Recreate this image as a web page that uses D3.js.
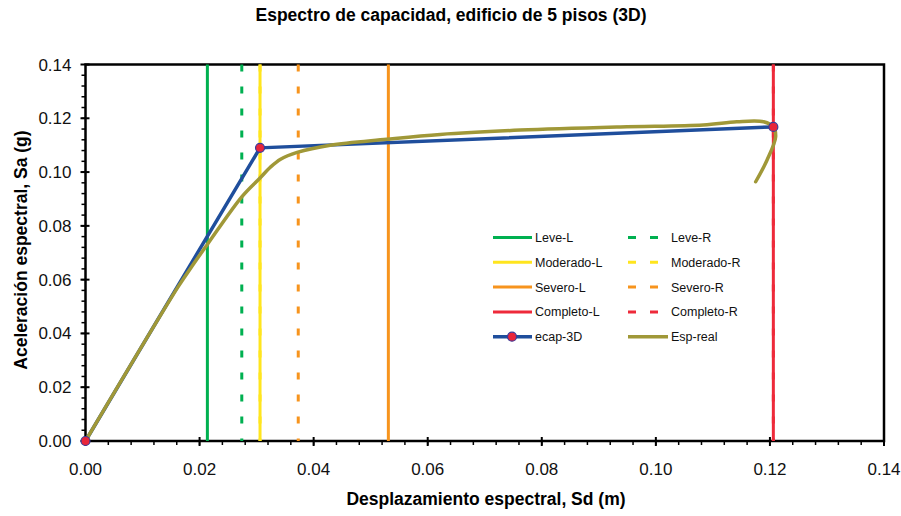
<!DOCTYPE html>
<html lang="es">
<head>
  <meta charset="UTF-8" />
  <title>Espectro de capacidad</title>
  <script src="https://cdn.jsdelivr.net/npm/d3@7"></script>
  <style>
    body { margin: 0; background: #fff; }
    svg { font-family: "Liberation Sans", Arial, sans-serif; }
    .tick-label { font-size: 17px; fill: #111; }
    .legend-label { font-size: 12.5px; fill: #111; }
    .title { font-size: 17.5px; font-weight: bold; }
    .axis-title { font-size: 17.5px; font-weight: bold; }
  </style>
</head>
<body>
<script>
  // damage-state thresholds, Sd (m)
  var limitNames = ["Leve", "Moderado", "Severo", "Completo"];
  var limitColors = ["#00b050", "#ffe51e", "#f7941d", "#ee2a3a"];
  var limitL = [0.02137, 0.0306, 0.0531, 0.1206];
  var limitR = [0.0274, 0.0306, 0.0373, 0.1206];

  // bilinear capacity curve ecap-3D
  var ecapSd = [0, 0.0306, 0.1206];
  var ecapSa = [0, 0.109, 0.1168];

  // real capacity spectrum
  var realSd = [0, 0.0162, 0.0190, 0.0213, 0.0274, 0.0306, 0.0324, 0.0342, 0.0371, 0.0429,
                0.0528, 0.0622, 0.0762, 0.0938, 0.1083, 0.1142, 0.1189, 0.1206, 0.1210, 0.1195, 0.1175];
  var realSa = [0, 0.0572, 0.0660, 0.0729, 0.0908, 0.0978, 0.1018, 0.1048, 0.1073, 0.1100,
                0.1122, 0.1140, 0.1156, 0.1168, 0.1175, 0.1187, 0.1187, 0.1168, 0.1131, 0.1045, 0.0964];

  var xTicks = [0, 0.02, 0.04, 0.06, 0.08, 0.10, 0.12, 0.14];
  var yTicks = [0, 0.02, 0.04, 0.06, 0.08, 0.10, 0.12, 0.14];

  var w = 901, h = 516;
  var margin = { top: 64.5, right: 17, bottom: 75, left: 85.5 };
  var iw = w - margin.left - margin.right;
  var ih = h - margin.top - margin.bottom;

  var svg = d3.select("body").append("svg")
    .attr("width", w)
    .attr("height", h);

  var xScale = d3.scaleLinear().domain([0, 0.14]).range([0, iw]);
  var yScale = d3.scaleLinear().domain([0, 0.14]).range([ih, 0]);

  var g = svg.append("g")
    .attr("transform", "translate(" + margin.left + "," + margin.top + ")");

  // frame
  g.append("rect")
    .attr("width", iw).attr("height", ih)
    .attr("fill", "none").attr("stroke", "#000").attr("stroke-width", 2.5);

  // minor ticks (5 per major step)
  var minor = d3.range(0, 35).map(function(i) { return i * 0.004; });
  g.selectAll(".xminor").data(minor).enter().append("line")
    .attr("x1", function(d) { return xScale(d); })
    .attr("x2", function(d) { return xScale(d); })
    .attr("y1", ih).attr("y2", ih + 4)
    .attr("stroke", "#000").attr("stroke-width", 1.5);
  g.selectAll(".yminor").data(minor).enter().append("line")
    .attr("y1", function(d) { return yScale(d); })
    .attr("y2", function(d) { return yScale(d); })
    .attr("x1", -4).attr("x2", 0)
    .attr("stroke", "#000").attr("stroke-width", 1.5);

  // major ticks, crossing the axis
  g.selectAll(".xmajor").data(xTicks).enter().append("line")
    .attr("x1", function(d) { return xScale(d); })
    .attr("x2", function(d) { return xScale(d); })
    .attr("y1", ih - 4).attr("y2", ih + 5)
    .attr("stroke", "#000").attr("stroke-width", 2);
  g.selectAll(".ymajor").data(yTicks).enter().append("line")
    .attr("y1", function(d) { return yScale(d); })
    .attr("y2", function(d) { return yScale(d); })
    .attr("x1", -5).attr("x2", 4)
    .attr("stroke", "#000").attr("stroke-width", 2);

  g.selectAll(".xlab").data(xTicks).enter().append("text")
    .attr("class", "tick-label")
    .attr("x", function(d) { return xScale(d); })
    .attr("y", ih + 34)
    .attr("text-anchor", "middle")
    .text(function(d) { return d.toFixed(2); });
  g.selectAll(".ylab").data(yTicks).enter().append("text")
    .attr("class", "tick-label")
    .attr("x", -14)
    .attr("y", function(d) { return yScale(d) + 6; })
    .attr("text-anchor", "end")
    .text(function(d) { return d.toFixed(2); });

  // vertical damage-state lines: dashed (R) under solid (L)
  limitNames.forEach(function(n, i) {
    g.append("line")
      .attr("x1", xScale(limitR[i])).attr("x2", xScale(limitR[i]))
      .attr("y1", 0).attr("y2", ih)
      .attr("stroke", limitColors[i]).attr("stroke-width", 3)
      .attr("stroke-dasharray", "7,15");
  });
  limitNames.forEach(function(n, i) {
    g.append("line")
      .attr("x1", xScale(limitL[i])).attr("x2", xScale(limitL[i]))
      .attr("y1", 0).attr("y2", ih)
      .attr("stroke", limitColors[i]).attr("stroke-width", 3);
  });

  var ecap = ecapSd.map(function(d, i) { return [d, ecapSa[i]]; });
  var real = realSd.map(function(d, i) { return [d, realSa[i]]; });

  var line = d3.line()
    .x(function(d) { return xScale(d[0]); })
    .y(function(d) { return yScale(d[1]); });

  g.append("path")
    .datum(ecap)
    .attr("d", line)
    .attr("fill", "none").attr("stroke", "#1f4e9c").attr("stroke-width", 3.5);

  g.append("path")
    .datum(real)
    .attr("d", line.curve(d3.curveCatmullRom.alpha(0.5)))
    .attr("fill", "none").attr("stroke", "#a09838").attr("stroke-width", 3.5)
    .attr("stroke-linecap", "round");

  g.selectAll(".pt").data(ecap).enter().append("circle")
    .attr("cx", function(d) { return xScale(d[0]); })
    .attr("cy", function(d) { return yScale(d[1]); })
    .attr("r", 4.5)
    .attr("fill", "#e8253a").attr("stroke", "#3a3a9a").attr("stroke-width", 1.2);

  // legend
  var leg = svg.append("g");
  var rowY = function(i) { return 237.5 + i * 24.8; };
  limitNames.forEach(function(n, i) {
    leg.append("line")
      .attr("x1", 493).attr("x2", 532).attr("y1", rowY(i)).attr("y2", rowY(i))
      .attr("stroke", limitColors[i]).attr("stroke-width", 3);
    leg.append("text").attr("class", "legend-label")
      .attr("x", 535).attr("y", rowY(i) + 4.5).text(n + "-L");
    leg.append("line")
      .attr("x1", 628).attr("x2", 660).attr("y1", rowY(i)).attr("y2", rowY(i))
      .attr("stroke", limitColors[i]).attr("stroke-width", 3)
      .attr("stroke-dasharray", "8,14");
    leg.append("text").attr("class", "legend-label")
      .attr("x", 671).attr("y", rowY(i) + 4.5).text(n + "-R");
  });
  leg.append("line")
    .attr("x1", 493).attr("x2", 532).attr("y1", rowY(4)).attr("y2", rowY(4))
    .attr("stroke", "#1f4e9c").attr("stroke-width", 3.5);
  leg.append("circle")
    .attr("cx", 512).attr("cy", rowY(4)).attr("r", 4.5)
    .attr("fill", "#e8253a").attr("stroke", "#3a3a9a").attr("stroke-width", 1.2);
  leg.append("text").attr("class", "legend-label")
    .attr("x", 535).attr("y", rowY(4) + 4.5).text("ecap-3D");
  leg.append("line")
    .attr("x1", 628).attr("x2", 668).attr("y1", rowY(4)).attr("y2", rowY(4))
    .attr("stroke", "#a09838").attr("stroke-width", 3.5);
  leg.append("text").attr("class", "legend-label")
    .attr("x", 671).attr("y", rowY(4) + 4.5).text("Esp-real");

  // titles
  svg.append("text").attr("class", "title")
    .attr("x", 451).attr("y", 21).attr("text-anchor", "middle")
    .text("Espectro de capacidad, edificio de 5 pisos (3D)");
  svg.append("text").attr("class", "axis-title")
    .attr("x", 486).attr("y", 505).attr("text-anchor", "middle")
    .text("Desplazamiento espectral, Sd (m)");
  svg.append("text").attr("class", "axis-title")
    .attr("transform", "translate(27,250) rotate(-90)")
    .attr("text-anchor", "middle")
    .text("Aceleración espectral, Sa (g)");
</script>
</body>
</html>
